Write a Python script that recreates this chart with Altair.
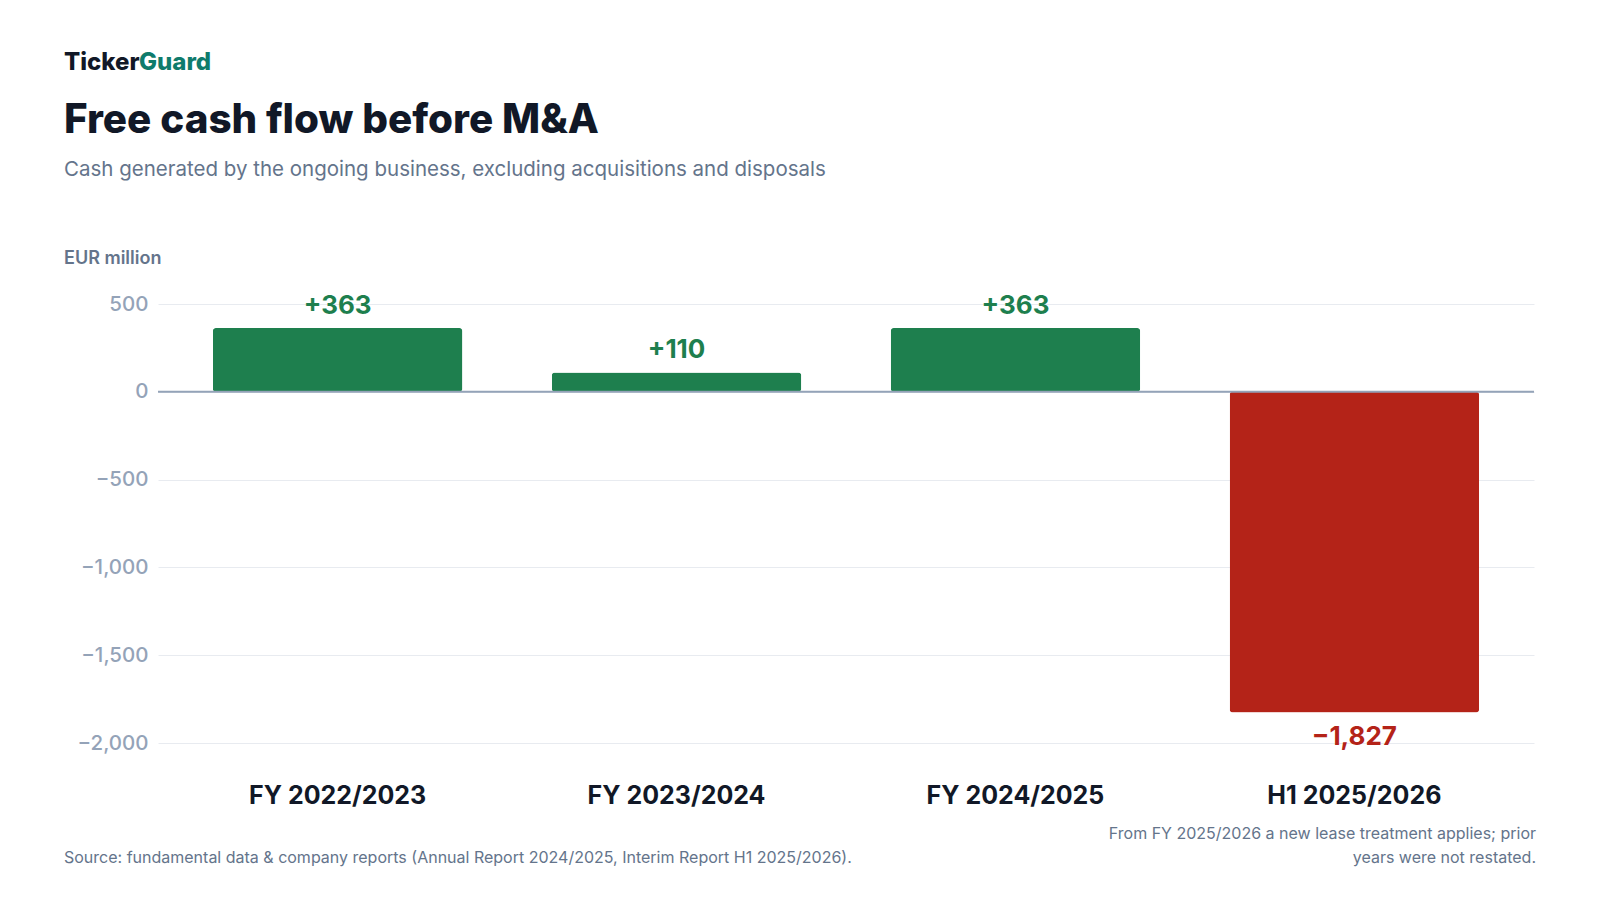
import altair as alt
import pandas as pd

categories = ["FY 2022/2023", "FY 2023/2024", "FY 2024/2025", "H1 2025/2026"]
values = [363, 110, 363, -1827]
labels = ["+363", "+110", "+363", "\u22121,827"]
y_ticks = [500, 0, -500, -1000, -1500, -2000]

GREEN = "#1e7f4e"
RED = "#b42318"
DARK = "#111827"
GRAY = "#64748b"
LIGHT = "#94a3b8"
FONT = "Inter"

df = pd.DataFrame({"cat": categories, "value": values, "label": labels})
df["sign"] = ["pos" if v >= 0 else "neg" for v in values]

W, H = 1376, 439

x_enc = alt.X("cat:N", sort=categories, title=None,
              scale=alt.Scale(paddingInner=0.264, paddingOuter=0.162),
              axis=alt.Axis(labelAngle=0, labelFontSize=25, labelFontWeight="bold",
                            labelColor=DARK, labelFont=FONT, labelPadding=40,
                            domain=False, ticks=False, grid=False))
y_scale = alt.Scale(domain=[-2000, 500], nice=False, zero=False)
y_enc = alt.Y("value:Q", scale=y_scale, title=None,
              axis=alt.Axis(values=y_ticks, labelFontSize=20.5, labelColor=LIGHT,
                            labelFont=FONT, labelFontWeight=500, labelPadding=10,
                            labelExpr="replace(format(datum.value, ','), '-', '\u2212')",
                            domain=False, ticks=False, grid=True,
                            gridColor="#e8ebf0", gridWidth=1))

base = alt.Chart(df)

bars = base.mark_bar(cornerRadius=3).encode(
    x=x_enc, y=y_enc,
    color=alt.Color("sign:N", scale=alt.Scale(domain=["pos", "neg"], range=[GREEN, RED]), legend=None),
)

zero = alt.Chart(pd.DataFrame({"z": [0]})).mark_rule(color=LIGHT, strokeWidth=2).encode(
    y=alt.Y("z:Q", scale=y_scale)
)

pos_lab = base.transform_filter("datum.value >= 0").mark_text(
    font=FONT, fontSize=26, fontWeight="bold", baseline="middle", dy=-22, color=GREEN
).encode(x=alt.X("cat:N", sort=categories), y=alt.Y("value:Q", scale=y_scale), text="label:N")

neg_lab = base.transform_filter("datum.value < 0").mark_text(
    font=FONT, fontSize=26, fontWeight="bold", baseline="middle", dy=24, color=RED
).encode(x=alt.X("cat:N", sort=categories), y=alt.Y("value:Q", scale=y_scale), text="label:N")

def txt(text, x, y, size, color, weight="normal", align="left"):
    return alt.Chart(pd.DataFrame({"t": [text]})).mark_text(
        font=FONT, fontSize=size, fontWeight=weight, color=color, align=align, baseline="middle"
    ).encode(text="t:N", x=alt.value(x), y=alt.value(y))

annotations = [
    txt("Ticker", -94, -241, 24, DARK, 800),
    txt("Guard", -19, -241, 24, "#0f7b6c", 800),
    txt("Free cash flow before M&A", -94, -183, 40.4, DARK, 800),
    txt("Cash generated by the ongoing business, excluding acquisitions and disposals", -94, -134, 20.5, GRAY),
    txt("EUR million", -94, -45, 18, GRAY, 600),
    txt("Source: fundamental data & company reports (Annual Report 2024/2025, Interim Report H1 2025/2026).", -94, 554, 16, GRAY),
    txt("From FY 2025/2026 a new lease treatment applies; prior", 1378, 530, 16, GRAY, align="right"),
    txt("years were not restated.", 1378, 554, 16, GRAY, align="right"),
]

chart = alt.layer(bars, zero, pos_lab, neg_lab, *annotations).properties(
    width=W, height=H,
    autosize=alt.AutoSizeParams(type="none"),
    padding={"left": 150, "top": 296, "right": 58, "bottom": 149},
).configure(background="white").configure_view(stroke=None)

chart.save("out.html", embed_options={"renderer": "svg", "actions": False})
